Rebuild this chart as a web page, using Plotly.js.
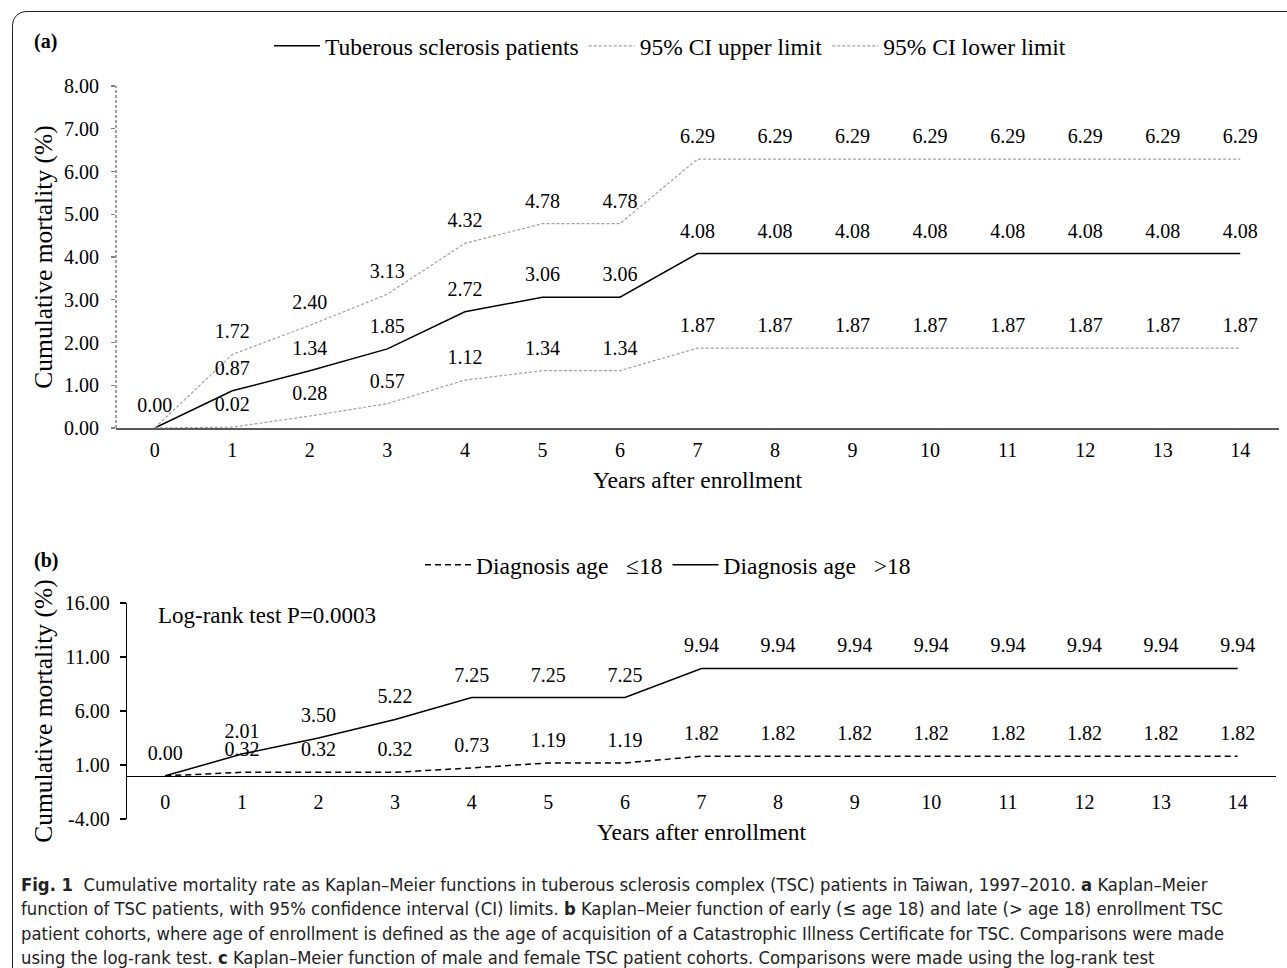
<!DOCTYPE html>
<html>
<head>
<meta charset="utf-8">
<script src="https://cdn.plot.ly/plotly-3.0.1.min.js"></script>
<style>
html,body{margin:0;padding:0;background:#fff;overflow:hidden;}
#wrap{position:relative;width:1287px;height:968px;}
#chart{position:absolute;left:0;top:0;width:1287px;height:968px;}
#frame{position:absolute;left:12px;top:11px;width:1400px;height:1100px;border:1.5px solid #222;border-radius:14px;pointer-events:none;}
</style>
</head>
<body>
<div id="wrap"><div id="chart"></div><div id="frame"></div></div>
<script>
// ---- data ----
const years = [0,1,2,3,4,5,6,7,8,9,10,11,12,13,14];
const tscPatients = [0.00,0.87,1.34,1.85,2.72,3.06,3.06,4.08,4.08,4.08,4.08,4.08,4.08,4.08,4.08];
const ciUpper     = [0.00,1.72,2.40,3.13,4.32,4.78,4.78,6.29,6.29,6.29,6.29,6.29,6.29,6.29,6.29];
const ciLower     = [0.00,0.02,0.28,0.57,1.12,1.34,1.34,1.87,1.87,1.87,1.87,1.87,1.87,1.87,1.87];
const ageLE18     = [0.00,0.32,0.32,0.32,0.73,1.19,1.19,1.82,1.82,1.82,1.82,1.82,1.82,1.82,1.82];
const ageGT18     = [0.00,2.01,3.50,5.22,7.25,7.25,7.25,9.94,9.94,9.94,9.94,9.94,9.94,9.94,9.94];
const seriesNamesA = ['Tuberous sclerosis patients','95% CI upper limit','95% CI lower limit'];
const seriesNamesB = ['Diagnosis age\u00a0\u00a0 \u226418','Diagnosis age\u00a0\u00a0 >18'];
const yTicksA = [0,1,2,3,4,5,6,7,8];
const yTicksB = [-4,1,6,11,16];
const captionLines = [
  '<b>Fig. 1</b>  Cumulative mortality rate as Kaplan–Meier functions in tuberous sclerosis complex (TSC) patients in Taiwan, 1997–2010. <b>a</b> Kaplan–Meier',
  'function of TSC patients, with 95% confidence interval (CI) limits. <b>b</b> Kaplan–Meier function of early (\u2264 age 18) and late (> age 18) enrollment TSC',
  'patient cohorts, where age of enrollment is defined as the age of acquisition of a Catastrophic Illness Certificate for TSC. Comparisons were made',
  'using the log-rank test. <b>c</b> Kaplan–Meier function of male and female TSC patient cohorts. Comparisons were made using the log-rank test'
];

// ---- layout helpers (pixel -> paper) ----
const W = 1287, H = 968;
const px = v => v / W;
const py = v => 1 - v / H;
const SERIF = 'Liberation Serif, Times New Roman, serif';
const labels = (arr, skipFirst) => arr.map((v,i) => (skipFirst && i===0) ? '' : v.toFixed(2));

function lineTrace(y, name, line, xa, ya, lg) {
  return {x: years, y: y, name: name, mode: 'lines', line: line, xaxis: xa, yaxis: ya, legend: lg, hoverinfo: 'skip'};
}
function textTrace(y, text, xa, ya) {
  return {x: years, y: y, text: text, mode: 'markers+text', textposition: 'top center',
    textfont: {family: SERIF, size: 20, color: '#000'}, marker: {size: 16, opacity: 0},
    cliponaxis: false, showlegend: false, xaxis: xa, yaxis: ya, hoverinfo: 'skip'};
}

const grey = {color: '#a0a0a0', width: 1.2, dash: '3px,2px'};
const traces = [
  lineTrace(tscPatients, seriesNamesA[0], {color: '#000', width: 1.5}, 'x', 'y', 'legend'),
  lineTrace(ciUpper, seriesNamesA[1], grey, 'x', 'y', 'legend'),
  lineTrace(ciLower, seriesNamesA[2], grey, 'x', 'y', 'legend'),
  lineTrace(ageLE18, seriesNamesB[0], {color: '#000', width: 1.5, dash: '6px,4px'}, 'x2', 'y2', 'legend2'),
  lineTrace(ageGT18, seriesNamesB[1], {color: '#000', width: 1.5}, 'x2', 'y2', 'legend2'),
  textTrace(tscPatients, labels(tscPatients,false), 'x', 'y'),
  textTrace(ciUpper, labels(ciUpper,true), 'x', 'y'),
  textTrace(ciLower, labels(ciLower,true), 'x', 'y'),
  textTrace(ageLE18, labels(ageLE18,true), 'x2', 'y2'),
  textTrace(ageGT18, labels(ageGT18,false), 'x2', 'y2')
];

const xA = [px(116), px(1279)];
const yA = [py(428), py(86)];
const xB = [px(127), px(1276)];
const yB = [py(819), py(603)];
const yBzero = yB[0] + (yB[1]-yB[0]) * 4/20;

const tickFont = {family: SERIF, size: 20, color: '#000'};
const titleFont = {family: SERIF, size: 23.5, color: '#000'};
const yTitleFont = {family: SERIF, size: 25.5, color: '#000'};

const annotations = [
  {xref:'paper', yref:'paper', x:px(32), y:py(41), xanchor:'left', yanchor:'middle', showarrow:false,
   text:'<b>(a)</b>', font:{family:SERIF, size:20, color:'#000'}},
  {xref:'paper', yref:'paper', x:px(32), y:py(560), xanchor:'left', yanchor:'middle', showarrow:false,
   text:'<b>(b)</b>', font:{family:SERIF, size:20, color:'#000'}},
  {xref:'paper', yref:'paper', x:px(156), y:py(615), xanchor:'left', yanchor:'middle', showarrow:false,
   text:'Log-rank test P=0.0003', font:{family:SERIF, size:23, color:'#000'}}
];
const capY = [884, 908.5, 933, 957.5];
captionLines.forEach((t,i) => annotations.push({
  xref:'paper', yref:'paper', x:px(19), y:py(capY[i]), xanchor:'left', yanchor:'middle', showarrow:false,
  text:t, font:{family:'DejaVu Sans Condensed, Liberation Sans Narrow, sans-serif', size:18.3, color:'#222'}
}));

const layout = {
  width: W, height: H,
  margin: {l:0, r:0, t:0, b:0},
  paper_bgcolor: '#fff', plot_bgcolor: 'rgba(0,0,0,0)',
  showlegend: true,
  xaxis: {domain: xA, anchor: 'y', range: [-0.5, 14.5], tickmode: 'linear', tick0: 0, dtick: 1,
    showgrid: false, zeroline: false, showline: true, linecolor: '#595959', linewidth: 1.5,
    ticks: '', ticklabelstandoff: 3, tickfont: tickFont,
    title: {text: 'Years after enrollment', font: titleFont, standoff: 12}},
  yaxis: {domain: yA, anchor: 'x', range: [0, 8], tickmode: 'array', tickvals: yTicksA,
    ticktext: yTicksA.map(v => v.toFixed(2)),
    showgrid: false, zeroline: false, showline: false, ticks: 'outside', ticklen: 4, tickcolor: '#808080', tickwidth: 1.2,
    tickfont: tickFont, ticklabelstandoff: 8,
    title: {text: 'Cumulative mortality (%)', font: yTitleFont, standoff: 4}},
  xaxis2: {domain: xB, anchor: 'free', position: yBzero, range: [-0.5, 14.5], tickmode: 'linear', tick0: 0, dtick: 1,
    showgrid: false, zeroline: false, showline: true, linecolor: '#000', linewidth: 1.3,
    ticks: '', ticklabelstandoff: 8, tickfont: tickFont,
    title: {text: 'Years after enrollment', font: titleFont, standoff: 11}},
  yaxis2: {domain: yB, anchor: 'x2', range: [-4, 16], tickmode: 'array', tickvals: yTicksB,
    ticktext: yTicksB.map(v => v.toFixed(2)),
    showgrid: false, zeroline: false, showline: true, linecolor: '#000', linewidth: 1.3,
    ticks: 'outside', ticklen: 6, tickcolor: '#000', tickwidth: 1.3, tickfont: tickFont, ticklabelstandoff: 6,
    title: {text: 'Cumulative mortality (%)', font: yTitleFont, standoff: 4}},
  legend: {orientation: 'h', x: px(670), y: py(46), xanchor: 'center', yanchor: 'middle', itemwidth: 46,
    font: {family: SERIF, size: 23.5, color: '#000'}, bgcolor: 'rgba(0,0,0,0)'},
  legend2: {orientation: 'h', x: px(668), y: py(565), xanchor: 'center', yanchor: 'middle', itemwidth: 46,
    font: {family: SERIF, size: 23.5, color: '#000'}, bgcolor: 'rgba(0,0,0,0)'},
  shapes: [
    {type: 'line', xref: 'paper', yref: 'y', x0: xA[0], x1: xA[0], y0: 0, y1: 8,
     line: {color: '#808080', width: 1.5, dash: '3px,2px'}}
  ],
  annotations: annotations
};

Plotly.newPlot('chart', traces, layout, {staticPlot: true, displayModeBar: false});
</script>
</body>
</html>
